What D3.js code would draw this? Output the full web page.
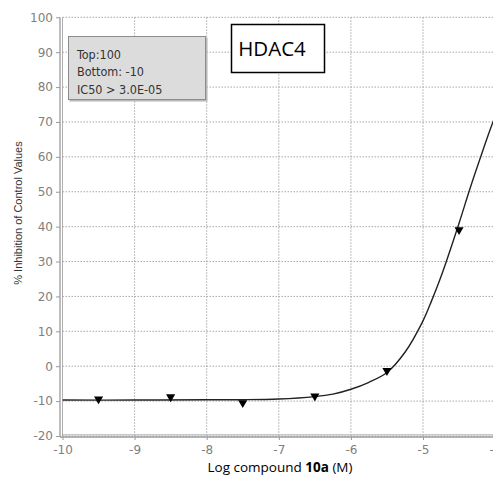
<!DOCTYPE html>
<html>
<head>
<meta charset="utf-8">
<script src="https://cdn.jsdelivr.net/npm/d3@7"></script>
<style>
  body { margin: 0; background: #fff; }
  svg { display: block; }
</style>
</head>
<body>
<div id="chart"></div>
<script>
// measured points (triangles)
const logConc = [-9.5, -8.5, -7.5, -6.5, -5.5, -4.5];
const inhibition = [-9.4, -8.8, -10.5, -8.6, -1.3, 39.1];

// fitted curve
const curveX = [-10, -9, -8, -7.5, -7, -6.5, -6.25, -6, -5.75, -5.5, -5.25, -5, -4.88, -4.75, -4.5, -4.35, -4.19, -4.04, -3.9];
const curveY = [-9.7, -9.7, -9.6, -9.6, -9.4, -8.7, -8.0, -6.6, -4.6, -1.8, 4.0, 13.0, 18.8, 25.7, 41.0, 50.8, 60.6, 69.4, 76.5];

const xTicks = [-10, -9, -8, -7, -6, -5, -4];
const yTicks = [-20, -10, 0, 10, 20, 30, 40, 50, 60, 70, 80, 90, 100];
const fitLines = ['Top:100', 'Bottom: -10', 'IC50 > 3.0E-05'];

const width = 493, height = 479;
const margin = { top: 17.3, left: 62.5, bottom: 436 };

const svg = d3.select('#chart').append('svg')
    .attr('width', width)
    .attr('height', height);

const x = d3.scaleLinear().domain([-10, -4]).range([margin.left, margin.left + 6 * 72.1]);
const y = d3.scaleLinear().domain([-20, 100]).range([margin.bottom, margin.top]);

// clip for plot area
svg.append('clipPath').attr('id', 'plot')
  .append('rect')
    .attr('x', margin.left).attr('y', margin.top - 1)
    .attr('width', x(-4) - margin.left).attr('height', margin.bottom - margin.top + 1);

// grid
const grid = svg.append('g')
    .attr('stroke', '#a8a8a8')
    .attr('stroke-width', 1)
    .attr('stroke-dasharray', '1.5,1.5');

grid.selectAll('.gx').data(xTicks).enter().append('line')
    .attr('x1', d => x(d)).attr('x2', d => x(d))
    .attr('y1', margin.top).attr('y2', margin.bottom);

grid.selectAll('.gy').data(yTicks).enter().append('line')
    .attr('x1', margin.left).attr('x2', x(-4))
    .attr('y1', d => y(d)).attr('y2', d => y(d));

// axes
const fmt = d => String(d);
const yAxis = svg.append('g')
    .attr('transform', `translate(${margin.left - 2.5},0)`)
    .call(d3.axisLeft(y).tickValues(yTicks).tickFormat(fmt).tickSize(4).tickPadding(3).tickSizeOuter(0));

const xAxis = svg.append('g')
    .attr('transform', `translate(0,${margin.bottom + 1})`)
    .call(d3.axisBottom(x).tickValues(xTicks).tickFormat(fmt).tickSize(3).tickPadding(5).tickSizeOuter(0));

[yAxis, xAxis].forEach(a => {
  a.select('.domain').attr('stroke', '#9a9a9a').attr('stroke-width', 1.3);
  a.selectAll('.tick line').attr('stroke', '#9a9a9a');
  a.selectAll('.tick text')
    .attr('fill', '#808080')
    .attr('font-family', 'DejaVu Sans, sans-serif')
    .attr('font-size', 12);
});
xAxis.select('.domain').attr('d', `M${margin.left - 2.5},0H${width}`);
yAxis.select('.domain').attr('d', `M0,${margin.top}V${margin.bottom + 1}`);

// inner frame lines
svg.append('line')
    .attr('x1', margin.left).attr('x2', margin.left)
    .attr('y1', margin.top).attr('y2', margin.bottom)
    .attr('stroke', '#b0b0b0');
svg.append('line')
    .attr('x1', margin.left).attr('x2', width)
    .attr('y1', margin.bottom - 1.2).attr('y2', margin.bottom - 1.2)
    .attr('stroke', '#b0b0b0');

// curve
const line = d3.line()
    .x((d, i) => x(curveX[i]))
    .y(d => y(d))
    .curve(d3.curveCatmullRom.alpha(0.5));

svg.append('path')
    .datum(curveY)
    .attr('clip-path', 'url(#plot)')
    .attr('fill', 'none')
    .attr('stroke', '#222')
    .attr('stroke-width', 1.4)
    .attr('d', line);

// markers
const tri = d3.symbol().type(d3.symbolTriangle).size(36);
svg.selectAll('.pt').data(inhibition).enter().append('path')
    .attr('d', tri)
    .attr('fill', '#000')
    .attr('transform', (d, i) => `translate(${x(logConc[i])},${y(d)}) rotate(180)`);

// fit parameter box
svg.append('rect')
    .attr('x', 69.5).attr('y', 37.5).attr('width', 138).attr('height', 64)
    .attr('fill', '#b8b8b8');
svg.append('rect')
    .attr('x', 68.5).attr('y', 36.5).attr('width', 137).attr('height', 63)
    .attr('fill', '#dcdcdc')
    .attr('stroke', '#8c8c8c')
    .attr('stroke-width', 1);
svg.selectAll('.fit').data(fitLines).enter().append('text')
    .attr('x', 77)
    .attr('y', (d, i) => 58.5 + i * 17.8)
    .attr('font-family', 'DejaVu Sans Condensed, sans-serif')
    .attr('font-size', 12.5)
    .attr('fill', '#333')
    .text(d => d);

// target label box
svg.append('rect')
    .attr('x', 231.5).attr('y', 24.5).attr('width', 93).attr('height', 48)
    .attr('fill', '#fff')
    .attr('stroke', '#000')
    .attr('stroke-width', 1.5);
svg.append('text')
    .attr('x', 272).attr('y', 56)
    .attr('text-anchor', 'middle')
    .attr('font-family', 'Open Sans, sans-serif')
    .attr('font-size', 20.5)
    .attr('fill', '#000')
    .text('HDAC4');

// axis titles
svg.append('text')
    .attr('transform', 'translate(22,213) rotate(-90)')
    .attr('text-anchor', 'middle')
    .attr('font-family', 'Liberation Sans, Arial, sans-serif')
    .attr('font-size', 11)
    .attr('fill', '#333')
    .text('% Inhibition of Control Values');

const xt = svg.append('text')
    .attr('x', 280).attr('y', 472)
    .attr('text-anchor', 'middle')
    .attr('font-family', 'Open Sans, sans-serif')
    .attr('font-size', 13.5)
    .attr('fill', '#000');
xt.append('tspan').text('Log compound ');
xt.append('tspan').attr('font-weight', 'bold').text('10a');
xt.append('tspan').text(' (M)');
</script>
</body>
</html>
